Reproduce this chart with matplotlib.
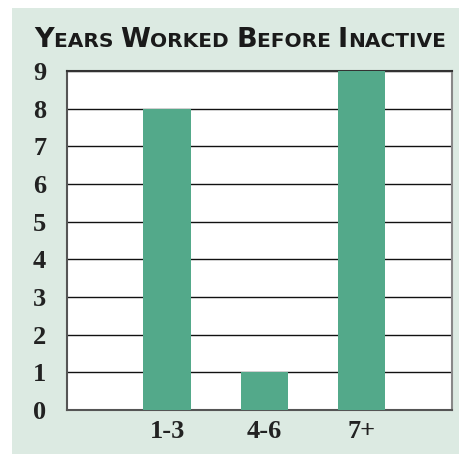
import matplotlib.pyplot as plt
from matplotlib.offsetbox import TextArea, HPacker, AnchoredOffsetbox
from matplotlib.patches import Rectangle

categories = ['1-3', '4-6', '7+']
counts = [8, 1, 9]
title_words = ['Years', 'Worked', 'Before', 'Inactive']

bg = '#dceae2'
bar_color = '#53a98a'

fig = plt.figure(figsize=(4.59, 4.54), dpi=100)
fig.patches.append(Rectangle((12 / 459, 0), 1, 1 - 8 / 454, transform=fig.transFigure,
                             facecolor=bg, edgecolor='none', zorder=-1))

ax = fig.add_axes([67 / 459, 1 - 410 / 454, 385 / 459, 339 / 454])
ax.set_facecolor('white')
ax.bar(range(len(categories)), counts, width=0.49, color=bar_color, zorder=3)
ax.set_xlim(-1.03, 2.93)
ax.set_ylim(0, 9)
ax.set_yticks(range(0, 10))
ax.set_xticks(range(len(categories)))
ax.set_xticklabels(categories)
ax.yaxis.grid(True, color='#111111', linewidth=1.0, zorder=1)
ax.tick_params(length=0, labelsize=19, colors='#222222', pad=7)
ax.tick_params(axis='y', pad=15)
for lab in ax.get_xticklabels() + ax.get_yticklabels():
    lab.set_family('Liberation Serif')
    lab.set_weight('bold')
for side in ['left', 'bottom']:
    ax.spines[side].set_color('#555555')
    ax.spines[side].set_linewidth(1.5)
for side in ['right', 'top']:
    ax.spines[side].set_color('#888888')
    ax.spines[side].set_linewidth(1.5)
ax.spines['top'].set_color('#333333')

# small-caps title
pieces = []
for i, w in enumerate(title_words):
    big = TextArea(w[0].upper(), textprops=dict(size=19.5, weight='heavy', family='DejaVu Sans', color='#1a1a1a'))
    small = TextArea(w[1:].upper() + ('' if i == len(title_words) - 1 else ' '),
                     textprops=dict(size=14.5, weight='heavy', family='DejaVu Sans', color='#1a1a1a'))
    pieces += [big, small]
box = HPacker(children=pieces, align='baseline', pad=0, sep=0)
anchored = AnchoredOffsetbox(loc='center', child=box, pad=0, frameon=False,
                             bbox_to_anchor=(240 / 459, 1 - 40 / 454),
                             bbox_transform=fig.transFigure, borderpad=0)
fig.add_artist(anchored)

fig.savefig('out.png', dpi=100)
